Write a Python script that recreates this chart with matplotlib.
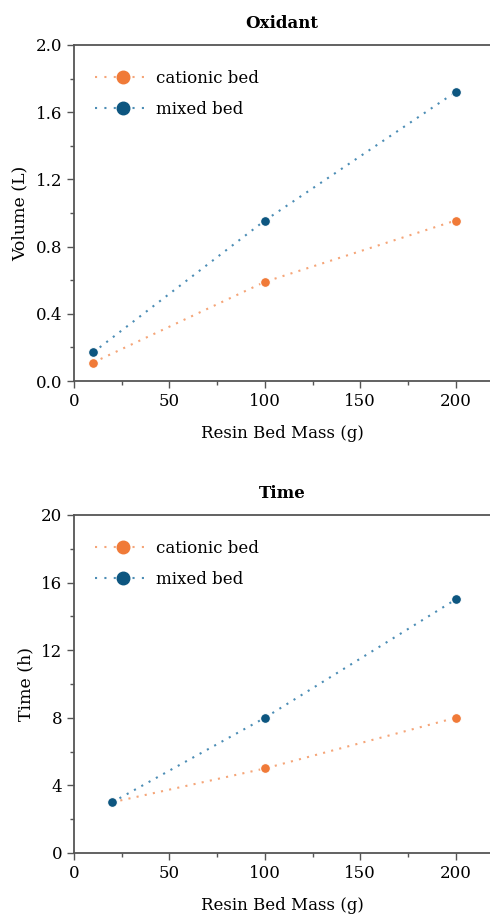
import matplotlib
matplotlib.use("Agg")
import matplotlib.pyplot as plt
from matplotlib.ticker import MultipleLocator

plt.rcParams['font.family'] = ['DejaVu Serif']

ox_x_cat = [10, 100, 200]
ox_y_cat = [0.11, 0.59, 0.955]
ox_x_mix = [10, 100, 200]
ox_y_mix = [0.17, 0.955, 1.72]

t_x_cat = [20, 100, 200]
t_y_cat = [3, 5, 8]
t_x_mix = [20, 100, 200]
t_y_mix = [3, 8, 15]

labels = ["cationic bed", "mixed bed"]
orange = "#F07A38"
blue = "#0D5680"
orange_l = "#F5A578"
blue_l = "#4C8DB5"

fig = plt.figure(figsize=(4.9, 9.17), dpi=100)
ax1 = fig.add_axes([0.151, 0.5845, 0.849, 0.3665])
ax2 = fig.add_axes([0.151, 0.0698, 0.849, 0.3686])

def draw(ax, xc, yc, xm, ym, ylim, major, minor, title, ylabel, fmt):
    for x, y, c, cl, lab in [(xc, yc, orange, orange_l, labels[0]), (xm, ym, blue, blue_l, labels[1])]:
        ax.plot(x, y, linestyle=(0, (1, 3)), color=cl, lw=1.5, zorder=1)
        ax.scatter(x, y, s=50, color=c, edgecolor='white', linewidth=0.8, zorder=3)
        ax.plot([], [], linestyle=(0, (1, 3.5)), color=cl, lw=1.5, marker='o', markersize=9,
                markerfacecolor=c, markeredgecolor=c, label=lab)
    ax.set_xlim(0, 218)
    ax.set_ylim(*ylim)
    ax.yaxis.set_major_locator(MultipleLocator(major))
    ax.yaxis.set_minor_locator(MultipleLocator(minor))
    ax.xaxis.set_major_locator(MultipleLocator(50))
    ax.xaxis.set_minor_locator(MultipleLocator(25))
    ax.yaxis.set_major_formatter(plt.FormatStrFormatter(fmt))
    for s in ['left', 'bottom', 'top']:
        ax.spines[s].set_color('#555555')
        ax.spines[s].set_linewidth(1.3)
    ax.spines['right'].set_visible(False)
    ax.tick_params(which='major', length=5, width=1, color='#555555', labelsize=12)
    ax.tick_params(which='minor', length=3, width=1, color='#555555')
    ax.set_title(title, fontsize=12, fontweight='bold', pad=12)
    ax.set_ylabel(ylabel, fontsize=12.5, labelpad=5)
    ax.set_xlabel("Resin Bed Mass (g)", fontsize=12, labelpad=11)
    ax.legend(loc='upper left', frameon=False, fontsize=12, handlelength=3.4,
              handletextpad=0.3, bbox_to_anchor=(0.01, 0.975), borderaxespad=0.6,
              labelspacing=0.85)

draw(ax1, ox_x_cat, ox_y_cat, ox_x_mix, ox_y_mix, (0, 2.0), 0.4, 0.2, "Oxidant", "Volume (L)", "%.1f")
draw(ax2, t_x_cat, t_y_cat, t_x_mix, t_y_mix, (0, 20), 4, 2, "Time", "Time (h)", "%d")

fig.savefig("out.png", dpi=100)
